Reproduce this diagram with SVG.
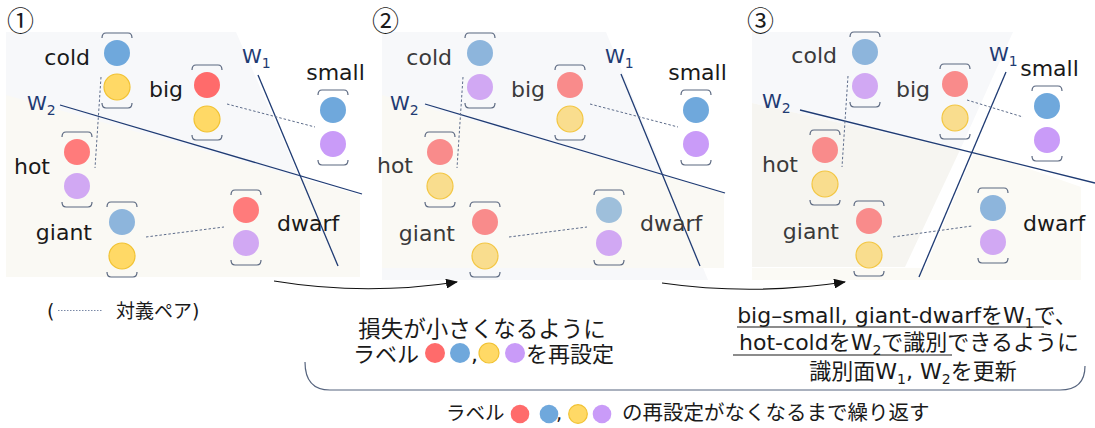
<svg xmlns="http://www.w3.org/2000/svg" xmlns:xlink="http://www.w3.org/1999/xlink" width="1095" height="428" viewBox="0 0 1095 428">
<style>
.lbl{font-family:"DejaVu Sans",sans-serif;font-size:22px;fill:#1a1a1a}
.lbl2{font-family:"DejaVu Sans",sans-serif;font-size:22px;fill:#3a3a3a}
.w{font-family:"DejaVu Sans",sans-serif;font-size:20px;fill:#1f3b73}
.num{font-family:"Noto Sans CJK JP","DejaVu Sans",sans-serif;font-size:27px;fill:#1a1a1a}
.jp{font-family:"DejaVu Sans","Noto Sans CJK JP",sans-serif;fill:#1a1a1a}
.wl{stroke:#1f3b73;stroke-width:1.3;fill:none}
.pair{stroke:#5d6c8a;stroke-width:1;stroke-dasharray:2.5 2;fill:none}
.brk{stroke:#5b6880;stroke-width:1.2;fill:none}
.b{fill:#6fa8dc}.b2{fill:#8db5dc}.b3{fill:#9ebfdb}
.r{fill:#ff6b6b}.r2{fill:#ff7b7b}.r3{fill:#f98b8b}
.y{fill:#ffd966;stroke:#f1c232;stroke-width:1.2}.y2{fill:#f9dd8e;stroke:#f3c642;stroke-width:1.2}
.p{fill:#c99bf8}.p2{fill:#d1a8f3}
.conn{stroke:#111;stroke-width:1.2;fill:none}
.gray{fill:#f7f8fa}.beige{fill:#faf9f4}.beige2{fill:#f6f5f1}.beige3{fill:#fbfaf5}
</style>
<defs>
<g id="brk">
<path class="brk" d="M0,5 Q0,0 4,0 L26,0 Q30,0 30,5"/>
<path class="brk" d="M0,70 Q0,75 4,75 L26,75 Q30,75 30,70"/>
</g>
<marker id="ah" viewBox="0 0 12 10" refX="11" refY="5" markerWidth="12" markerHeight="10" markerUnits="userSpaceOnUse" orient="auto">
<path d="M0,0 L12,5 L0,10 Z" fill="#111"/>
</marker>
</defs>
<rect width="1095" height="428" fill="#ffffff"/>

<!-- panel backgrounds -->
<g id="bg1">
<polygon class="gray" points="6,32 236,32 343,277 6,277"/>
<polygon class="beige" points="6,95 360,195 360,277 6,277"/>
</g>
<g id="bg2">
<polygon class="gray" points="382,32 606,32 708,280 382,280"/>
<polygon class="beige" points="382,95 724,193 724,268 382,268"/>
</g>
<g id="bg3">
<polygon class="beige3" points="975,150 1081,187 1081,280 752,280 752,268 925,268"/>
<polygon class="gray" points="752,32 1013,32 960,150 752,103"/>
<polygon class="beige2" points="752,103 960,150 905,267 752,267"/>
</g>

<text class="num" x="7" y="31">①</text>
<text class="num" x="372" y="31">②</text>
<text class="num" x="747" y="31">③</text>

<!-- separating lines and pair lines -->
<g id="lines">
<line class="wl" x1="258" y1="75" x2="338" y2="266"/>
<line class="wl" x1="60" y1="105" x2="362" y2="194"/>
<line class="pair" x1="101" y1="77" x2="95" y2="168"/>
<line class="pair" x1="227" y1="104" x2="315" y2="127"/>
<line class="pair" x1="146" y1="237" x2="224" y2="227"/>

<line class="wl" x1="621" y1="74" x2="700" y2="266"/>
<line class="wl" x1="425" y1="104" x2="725" y2="193"/>
<line class="pair" x1="463" y1="77" x2="457" y2="168"/>
<line class="pair" x1="590" y1="104" x2="678" y2="127"/>
<line class="pair" x1="509" y1="237" x2="587" y2="227"/>

<line class="wl" x1="1006" y1="72" x2="919" y2="277"/>
<line class="wl" x1="800" y1="110" x2="1095" y2="183"/>
<line class="pair" x1="848" y1="76" x2="842" y2="167"/>
<line class="pair" x1="967" y1="100" x2="1023" y2="117"/>
<line class="pair" x1="893" y1="237" x2="972" y2="226"/>
</g>

<g id="wlabels">
<text class="w" x="242" y="63">W<tspan font-size="14" dy="5">1</tspan></text>
<text class="w" x="27" y="110">W<tspan font-size="14" dy="5">2</tspan></text>
<text class="w" x="605" y="63">W<tspan font-size="14" dy="5">1</tspan></text>
<text class="w" x="390" y="110">W<tspan font-size="14" dy="5">2</tspan></text>
<text class="w" x="989" y="61">W<tspan font-size="14" dy="5">1</tspan></text>
<text class="w" x="762" y="108">W<tspan font-size="14" dy="5">2</tspan></text>
</g>

<!-- panel 1 nodes -->
<g id="p1-cold"><use xlink:href="#brk" x="102" y="33"/><circle class="b" cx="117" cy="53" r="13"/><circle class="y" cx="117" cy="87" r="13"/><text class="lbl" x="90" y="65" text-anchor="end">cold</text></g>
<g id="p1-big"><use xlink:href="#brk" x="192" y="65"/><circle class="r" cx="207" cy="85" r="13"/><circle class="y" cx="207" cy="119" r="13"/><text class="lbl" x="183" y="97" text-anchor="end">big</text></g>
<g id="p1-small"><use xlink:href="#brk" x="318" y="90"/><circle class="b" cx="333" cy="110" r="13"/><circle class="p" cx="333" cy="144" r="13"/><text class="lbl" x="335.5" y="80" text-anchor="middle">small</text></g>
<g id="p1-hot"><use xlink:href="#brk" x="62" y="132"/><circle class="r2" cx="77" cy="152" r="13"/><circle class="p2" cx="77" cy="186" r="13"/><text class="lbl" x="50" y="174" text-anchor="end">hot</text></g>
<g id="p1-giant"><use xlink:href="#brk" x="107" y="202"/><circle class="b2" cx="122" cy="222" r="13"/><circle class="y" cx="122" cy="256" r="13"/><text class="lbl" x="92" y="240" text-anchor="end">giant</text></g>
<g id="p1-dwarf"><use xlink:href="#brk" x="231" y="190"/><circle class="r2" cx="246" cy="210" r="13"/><circle class="p2" cx="246" cy="243" r="13"/><text class="lbl" x="277" y="231">dwarf</text></g>

<!-- panel 2 nodes -->
<g id="p2-cold"><use xlink:href="#brk" x="465" y="33"/><circle class="b2" cx="480" cy="53" r="13"/><circle class="p2" cx="480" cy="87" r="13"/><text class="lbl2" x="452" y="65" text-anchor="end">cold</text></g>
<g id="p2-big"><use xlink:href="#brk" x="555" y="65"/><circle class="r3" cx="570" cy="85" r="13"/><circle class="y2" cx="570" cy="119" r="13"/><text class="lbl2" x="545" y="97" text-anchor="end">big</text></g>
<g id="p2-small"><use xlink:href="#brk" x="681" y="90"/><circle class="b" cx="696" cy="110" r="13"/><circle class="p" cx="696" cy="144" r="13"/><text class="lbl" x="697.5" y="80" text-anchor="middle">small</text></g>
<g id="p2-hot"><use xlink:href="#brk" x="425" y="132"/><circle class="r3" cx="440" cy="152" r="13"/><circle class="y2" cx="440" cy="186" r="13"/><text class="lbl2" x="413" y="173" text-anchor="end">hot</text></g>
<g id="p2-giant"><use xlink:href="#brk" x="470" y="202"/><circle class="r3" cx="485" cy="222" r="13"/><circle class="y2" cx="485" cy="256" r="13"/><text class="lbl2" x="455" y="241" text-anchor="end">giant</text></g>
<g id="p2-dwarf"><use xlink:href="#brk" x="594" y="190"/><circle class="b3" cx="609" cy="210" r="13"/><circle class="p2" cx="609" cy="243" r="13"/><text class="lbl2" x="640" y="231">dwarf</text></g>

<!-- panel 3 nodes -->
<g id="p3-cold"><use xlink:href="#brk" x="850" y="32"/><circle class="b2" cx="865" cy="52" r="13"/><circle class="p2" cx="865" cy="86" r="13"/><text class="lbl2" x="837" y="63" text-anchor="end">cold</text></g>
<g id="p3-big"><use xlink:href="#brk" x="940" y="64"/><circle class="r3" cx="955" cy="84" r="13"/><circle class="y2" cx="955" cy="118" r="13"/><text class="lbl2" x="930" y="97" text-anchor="end">big</text></g>
<g id="p3-small"><use xlink:href="#brk" x="1032" y="86"/><circle class="b" cx="1047" cy="106" r="13"/><circle class="p" cx="1047" cy="140" r="13"/><text class="lbl" x="1049.5" y="76" text-anchor="middle">small</text></g>
<g id="p3-hot"><use xlink:href="#brk" x="810" y="130"/><circle class="r3" cx="825" cy="150" r="13"/><circle class="y2" cx="825" cy="184" r="13"/><text class="lbl2" x="798" y="172" text-anchor="end">hot</text></g>
<g id="p3-giant"><use xlink:href="#brk" x="854" y="201"/><circle class="r3" cx="869" cy="221" r="13"/><circle class="y2" cx="869" cy="255" r="13"/><text class="lbl2" x="839" y="239" text-anchor="end">giant</text></g>
<g id="p3-dwarf"><use xlink:href="#brk" x="978" y="188"/><circle class="b2" cx="993" cy="208" r="13"/><circle class="p2" cx="993" cy="242" r="13"/><text class="lbl" x="1023" y="231">dwarf</text></g>

<!-- connectors -->
<g id="connectors">
<path class="conn" d="M274,281 Q365,296 457,282" marker-end="url(#ah)"/>
<path class="conn" d="M662,283 Q752,296 845,282" marker-end="url(#ah)"/>
<path d="M305,362 Q305,390 330,390 L1060,390 Q1085,390 1085,366" fill="none" stroke="#56647e" stroke-width="1.2"/>
</g>

<!-- legend -->
<g id="legend">
<text class="jp" x="47" y="318" font-size="19">(</text>
<line x1="58" y1="310.5" x2="103" y2="310.5" stroke="#7a89a6" stroke-width="1" stroke-dasharray="1.5 1.5"/>
<text class="jp" x="116" y="318" font-size="19">対義ペア)</text>
</g>

<!-- step texts -->
<g id="text-left">
<text class="jp" x="482" y="337" font-size="22.5" text-anchor="middle">損失が小さくなるように</text>
<text class="jp" x="353" y="362" font-size="22">ラベル</text>
<circle class="r" cx="435" cy="353" r="10"/>
<circle class="b" cx="460" cy="353" r="10"/>
<text class="jp" x="471" y="362" font-size="22">,</text>
<circle class="y" cx="489" cy="353" r="10"/>
<circle class="p" cx="515" cy="353" r="10"/>
<text class="jp" x="526" y="362" font-size="22">を再設定</text>
</g>

<g id="text-right">
<text class="jp" x="907" y="323" font-size="22" text-anchor="middle">big–small, giant-dwarfをW<tspan font-size="14" dy="5">1</tspan><tspan dy="-5">で、</tspan></text>
<line x1="737" y1="327" x2="1044" y2="327" stroke="#1a1a1a" stroke-width="1.2"/>
<text class="jp" x="909" y="350" font-size="22" text-anchor="middle">hot-coldをW<tspan font-size="14" dy="5">2</tspan><tspan dy="-5">で識別できるように</tspan></text>
<line x1="733" y1="355" x2="952" y2="355" stroke="#1a1a1a" stroke-width="1.2"/>
<text class="jp" x="913" y="379" font-size="22" text-anchor="middle">識別面W<tspan font-size="14" dy="5">1</tspan><tspan dy="-5">, W</tspan><tspan font-size="14" dy="5">2</tspan><tspan dy="-5">を更新</tspan></text>
</g>

<g id="text-bottom">
<text class="jp" x="446" y="420" font-size="19.5">ラベル</text>
<circle class="r" cx="520" cy="414" r="9.3"/>
<circle class="b" cx="549" cy="414" r="9.3"/>
<text class="jp" x="556" y="420" font-size="19.5">,</text>
<circle class="y" cx="578" cy="414" r="9.3"/>
<circle class="p" cx="602" cy="414" r="9.3"/>
<text class="jp" x="622" y="420" font-size="20.5">の再設定がなくなるまで繰り返す</text>
</g>
</svg>
